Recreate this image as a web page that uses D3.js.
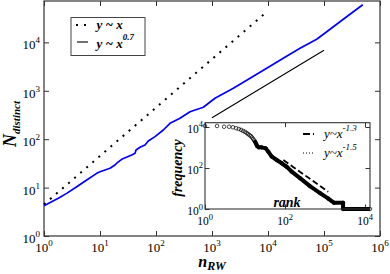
<!DOCTYPE html>
<html><head><meta charset="utf-8">
<script src="https://cdn.jsdelivr.net/npm/d3@7"></script>
<style>
body{margin:0;background:#fff}
svg{display:block}
</style>
</head><body>
<svg id="chart" width="390" height="274" style="font-family:'Liberation Serif','Tinos','Times New Roman',serif"></svg>
<script>
// ---- main panel data: distinct nodes vs random-walk steps ----
const walkSteps = [1, 1.8, 2.54, 3.84, 5.79, 8.73, 10, 15.1, 18.5, 20.4, 24.4, 36.8, 42.2, 44, 51.8, 63.6, 72.9, 96, 135, 178, 268, 405, 700, 1130, 2400, 4780, 9480, 18700, 37300, 74000, 112000, 221000, 492000];
const distinctNodes = [4.2, 6.0, 7.6, 10.4, 14.4, 19.7, 21.3, 25.1, 29.3, 32.7, 38.4, 47.2, 51.1, 59.8, 68.1, 75.9, 91.8, 113, 155, 213, 270, 370, 457, 700, 1130, 1810, 2920, 4690, 7550, 11600, 16600, 30000, 60000];
const linearRefX = [1, 8500];
const linearRefY = [4.5, 38250];
const powerRefX = [1000, 100000];
const powerRefY = [278, 6870];
const mainXDomain = [1, 1e6];
const mainYDomain = [1, 71600];
const mainXTicks = [1, 10, 100, 1e3, 1e4, 1e5, 1e6];
const mainXTickExp = ["0", "1", "2", "3", "4", "5", "6"];
const mainYTicks = [1, 10, 100, 1e3, 1e4];
const mainYTickExp = ["0", "1", "2", "3", "4"];

// ---- inset data: frequency vs rank ----
const ranks = [1,2,3,4,5,6,7,8,9,10,11,12,13,14,15,16,17,18,19,20,22,26,33,38,47,62,83,110,147,237,420,750,1190,1680,2820,2820,13300];
const freqs = [11200,11200,10300,10300,9700,8700,8000,7200,6400,5800,5100,4500,4000,3600,3100,2600,2200,1850,1480,1190,1020,1020,910,630,355,245,170,115,66,32,13,6,3.3,2,2,1,1];
const denseFromRank = 17;
const fit13Rank = [91, 1200];
const fit13Freq = [245, 6.9];
const fit15Rank = [56, 1480];
const fit15Freq = [245, 1.9];
const insetXDomain = [1, 13300];
const insetYDomain = [1, 16200];
const insetTicks = [1, 100, 1e4];
const insetTickExp = ["0", "2", "4"];

const svg = d3.select("#chart");
const M = {l: 44, r: 380, t: 1, b: 236};
const x = d3.scaleLog().domain(mainXDomain).range([M.l, M.r]);
const y = d3.scaleLog().domain(mainYDomain).range([M.b, M.t]);
const frameColor = "#333";

function styleAxis(g){
  g.selectAll("path.domain").remove();
  g.selectAll(".tick line").attr("stroke", frameColor).attr("stroke-width", 1);
}
svg.append("g").attr("transform", `translate(0,${M.b})`)
  .call(d3.axisBottom(x).tickValues(mainXTicks).tickFormat("").tickSizeInner(-5).tickSizeOuter(0)).call(styleAxis);
svg.append("g").attr("transform", `translate(0,${M.t})`)
  .call(d3.axisTop(x).tickValues(mainXTicks).tickFormat("").tickSizeInner(-5).tickSizeOuter(0)).call(styleAxis);
svg.append("g").attr("transform", `translate(${M.l},0)`)
  .call(d3.axisLeft(y).tickValues(mainYTicks).tickFormat("").tickSizeInner(-5).tickSizeOuter(0)).call(styleAxis);
svg.append("g").attr("transform", `translate(${M.r},0)`)
  .call(d3.axisRight(y).tickValues(mainYTicks).tickFormat("").tickSizeInner(-5).tickSizeOuter(0)).call(styleAxis);
svg.append("rect").attr("x", M.l).attr("y", M.t).attr("width", M.r - M.l).attr("height", M.b - M.t)
  .attr("fill", "none").attr("stroke", frameColor).attr("stroke-width", 1.2);

// tick labels
mainXTicks.forEach((v, i) => {
  const t = svg.append("text").attr("x", x(v)).attr("y", 251.5).attr("text-anchor", "middle").style("font-size", "13px");
  t.append("tspan").text("10");
  t.append("tspan").attr("dy", -6).style("font-size", "9px").text(mainXTickExp[i]);
});
mainYTicks.forEach((v, i) => {
  const t = svg.append("text").attr("x", 40).attr("y", y(v) + 7).attr("text-anchor", "end").style("font-size", "13px");
  t.append("tspan").text("10");
  t.append("tspan").attr("dy", -6).style("font-size", "9px").text(mainYTickExp[i]);
});

// axis titles
const yt = svg.append("text").attr("transform", "translate(16,124) rotate(-90)").attr("text-anchor", "middle")
  .style("font-weight", "bold").style("font-style", "italic");
yt.append("tspan").style("font-size", "18px").text("N");
yt.append("tspan").attr("dy", 4).style("font-size", "11px").text("distinct");
const xt = svg.append("text").attr("x", 212).attr("y", 266.5).attr("text-anchor", "middle")
  .style("font-weight", "bold").style("font-style", "italic");
xt.append("tspan").style("font-size", "16px").text("n");
xt.append("tspan").attr("dy", 3.5).style("font-size", "12px").text("RW");

const line = d3.line().x(d => x(d[0])).y(d => y(d[1]));
// reference lines
svg.append("path").datum(d3.zip(linearRefX, linearRefY)).attr("d", line)
  .attr("fill", "none").attr("stroke", "#000").attr("stroke-width", 2).attr("stroke-dasharray", "2,6");
svg.append("path").datum(d3.zip(powerRefX, powerRefY)).attr("d", line)
  .attr("fill", "none").attr("stroke", "#000").attr("stroke-width", 1.1);
// data
svg.append("path").datum(d3.zip(walkSteps, distinctNodes)).attr("d", line)
  .attr("fill", "none").attr("stroke", "#0000ff").attr("stroke-width", 1.7).attr("stroke-linejoin", "round");

// legend
const lg = svg.append("g");
lg.append("rect").attr("x", 71).attr("y", 17.5).attr("width", 74).attr("height", 38)
  .attr("fill", "#fff").attr("stroke", "#444").attr("stroke-width", 1);
lg.append("line").attr("x1", 76).attr("x2", 88).attr("y1", 25).attr("y2", 25)
  .attr("stroke", "#000").attr("stroke-width", 2).attr("stroke-dasharray", "2,6");
lg.append("line").attr("x1", 77).attr("x2", 88).attr("y1", 42).attr("y2", 42)
  .attr("stroke", "#000").attr("stroke-width", 1.1);
const l1 = lg.append("text").attr("x", 96.5).attr("y", 28.5).style("font-size", "13px").style("font-weight", "bold").style("font-style", "italic");
l1.text("y ~ x");
const l2 = lg.append("text").attr("x", 96.5).attr("y", 47.5).style("font-size", "13px").style("font-weight", "bold").style("font-style", "italic");
l2.append("tspan").text("y ~ x");
l2.append("tspan").attr("dy", -8).style("font-size", "9px").text("0.7");

// ---- inset ----
const I = {l: 205, r: 370, t: 122.7, b: 209};
const ix = d3.scaleLog().domain(insetXDomain).range([I.l, I.r]);
const iy = d3.scaleLog().domain(insetYDomain).range([I.b, I.t]);
const ins = svg.append("g");
ins.append("rect").attr("x", I.l).attr("y", I.t).attr("width", I.r - I.l).attr("height", I.b - I.t)
  .attr("fill", "#fff").attr("stroke", "none");
ins.append("g").attr("transform", `translate(0,${I.b})`)
  .call(d3.axisBottom(ix).tickValues(insetTicks).tickFormat("").tickSizeInner(-4.5).tickSizeOuter(0)).call(styleAxis);
ins.append("g").attr("transform", `translate(0,${I.t})`)
  .call(d3.axisTop(ix).tickValues(insetTicks).tickFormat("").tickSizeInner(-4.5).tickSizeOuter(0)).call(styleAxis);
ins.append("g").attr("transform", `translate(${I.l},0)`)
  .call(d3.axisLeft(iy).tickValues(insetTicks).tickFormat("").tickSizeInner(-4.5).tickSizeOuter(0)).call(styleAxis);
ins.append("g").attr("transform", `translate(${I.r},0)`)
  .call(d3.axisRight(iy).tickValues(insetTicks).tickFormat("").tickSizeInner(-4.5).tickSizeOuter(0)).call(styleAxis);
insetTicks.forEach((v, i) => {
  const t = ins.append("text").attr("x", ix(v)).attr("y", I.b + 16).attr("text-anchor", "middle").style("font-size", "11.5px");
  t.append("tspan").text("10");
  t.append("tspan").attr("dy", -5.5).style("font-size", "8.5px").text(insetTickExp[i]);
  const u = ins.append("text").attr("x", I.l - 2).attr("y", iy(v) + 6).attr("text-anchor", "end").style("font-size", "11.5px");
  u.append("tspan").text("10");
  u.append("tspan").attr("dy", -5.5).style("font-size", "8.5px").text(insetTickExp[i]);
});
const il = d3.line().x(d => ix(d[0])).y(d => iy(d[1]));
const pts = d3.zip(ranks, freqs);
ins.append("path").datum(pts.filter(d => d[0] >= denseFromRank)).attr("d", il)
  .attr("fill", "none").attr("stroke", "#000").attr("stroke-width", 4).attr("stroke-linejoin", "round");
ins.selectAll("circle").data(pts).join("circle")
  .attr("cx", d => ix(d[0])).attr("cy", d => iy(d[1])).attr("r", 1.8)
  .attr("fill", "none").attr("stroke", "#000").attr("stroke-width", 0.7);
ins.append("path").datum(d3.zip(fit13Rank, fit13Freq)).attr("d", il)
  .attr("fill", "none").attr("stroke", "#000").attr("stroke-width", 1.8).attr("stroke-dasharray", "6,3");
ins.append("path").datum(d3.zip(fit15Rank, fit15Freq)).attr("d", il)
  .attr("fill", "none").attr("stroke", "#000").attr("stroke-width", 1).attr("stroke-dasharray", "1,2");
ins.append("rect").attr("x", I.l).attr("y", I.t).attr("width", I.r - I.l).attr("height", I.b - I.t)
  .attr("fill", "none").attr("stroke", frameColor).attr("stroke-width", 1.1);
// inset legend
ins.append("line").attr("x1", 303).attr("x2", 314).attr("y1", 134).attr("y2", 134)
  .attr("stroke", "#000").attr("stroke-width", 1.8).attr("stroke-dasharray", "7,3");
ins.append("line").attr("x1", 303).attr("x2", 315).attr("y1", 153).attr("y2", 153)
  .attr("stroke", "#000").attr("stroke-width", 1).attr("stroke-dasharray", "1,2");
[["-1.3", 137.5], ["-1.5", 157]].forEach(([e, yy]) => {
  const t = ins.append("text").attr("x", 324).attr("y", yy).style("font-size", "13px").style("font-style", "italic");
  t.append("tspan").text("y~x");
  t.append("tspan").attr("dy", -7).style("font-size", "9px").text(e);
});
ins.append("text").attr("x", 287).attr("y", 206.5).attr("text-anchor", "middle")
  .style("font-size", "14px").style("font-weight", "bold").style("font-style", "italic").text("rank");
ins.append("text").attr("transform", "translate(182,168) rotate(-90)").attr("text-anchor", "middle")
  .style("font-size", "14px").style("font-weight", "bold").style("font-style", "italic").text("frequency");
</script>
</body></html>
